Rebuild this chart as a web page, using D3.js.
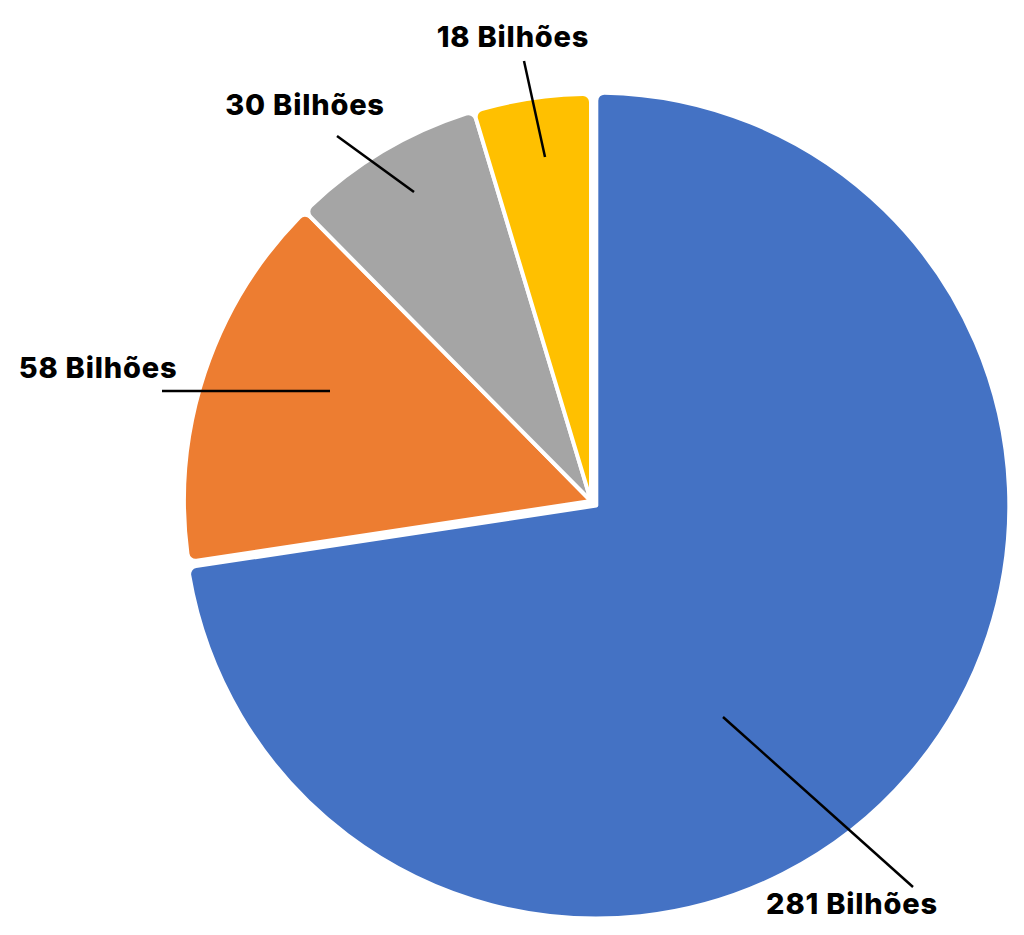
<!DOCTYPE html>
<html>
<head>
<meta charset="utf-8">
<script src="https://cdn.jsdelivr.net/npm/d3@7"></script>
<style>
  body { margin: 0; background: #fff; }
  text { font-family: Inter, "DejaVu Sans", sans-serif; font-weight: 800; }
</style>
</head>
<body>
<div id="chart"></div>
<script>
// values in bilhoes, clockwise from 12 o'clock
var categories = ['A', 'B', 'C', 'D']
var values = [281, 58, 30, 18]
var labels = ['281 Bilhões', '58 Bilhões', '30 Bilhões', '18 Bilhões']
var colors = ['#4472C4', '#ED7D31', '#A5A5A5', '#FFC000']

var width = 1024, height = 935
var cx = 591, cy = 501, radius = 407

// hand placed label layout, offsets from pie centre
var labelLayout = [
    {tx: 261, ty: 413, line: [[132, 216], [322, 386]]},
    {tx: -493, ty: -123, line: [[-429, -110], [-261, -110]]},
    {tx: -286, ty: -386, line: [[-254, -365], [-177, -309]]},
    {tx: -78, ty: -454, line: [[-67, -440], [-46, -344]]}
]

var svg = d3.select('#chart').append('svg')
    .attr('width', width)
    .attr('height', height)

var pie = d3.pie().sort(null).value(function(d) {return d;})
var arcs = pie(values)

var arc = d3.arc()
    .innerRadius(0)
    .outerRadius(function(d) {return d.index == 0 ? radius + 6 : radius;})
    .cornerRadius(8)

var g = svg.append('g')
    .attr('transform', 'translate(' + cx + ',' + cy + ')')

// blue slice pulled out a little
g.selectAll('path')
    .data(arcs)
    .enter()
    .append('path')
    .attr('d', arc)
    .attr('fill', function(d, i) {return colors[i];})
    .attr('stroke', '#fff')
    .attr('stroke-width', 4)
    .attr('stroke-linejoin', 'round')
    .attr('transform', function(d, i) {
	if (i != 0) return null
	var a = (d.startAngle + d.endAngle) / 2
	return 'translate(' + (7 * Math.sin(a)) + ',' + (-7 * Math.cos(a)) + ')'
    })

g.selectAll('line')
    .data(labelLayout)
    .enter()
    .append('line')
    .attr('x1', function(d) {return d.line[0][0];})
    .attr('y1', function(d) {return d.line[0][1];})
    .attr('x2', function(d) {return d.line[1][0];})
    .attr('y2', function(d) {return d.line[1][1];})
    .attr('stroke', '#000')
    .attr('stroke-width', 2.5)

g.selectAll('text')
    .data(labelLayout)
    .enter()
    .append('text')
    .attr('x', function(d) {return d.tx;})
    .attr('y', function(d) {return d.ty;})
    .attr('text-anchor', 'middle')
    .attr('font-size', 29)
    .attr('letter-spacing', 0.8)
    .attr('fill', '#000')
    .text(function(d, i) {return labels[i];})
</script>
</body>
</html>
